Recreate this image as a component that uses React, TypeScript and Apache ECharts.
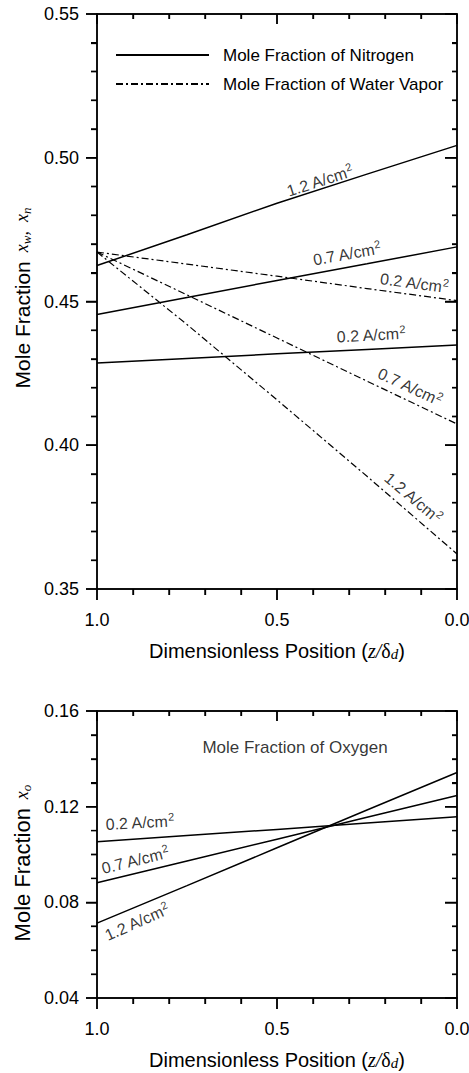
import React, { useEffect, useRef } from "react";
import * as echarts from "echarts";

// ---- data ----
const positions = [1.0, 0.75, 0.5, 0.25, 0.0];

const nitrogen02 = [0.4286, 0.4302, 0.4318, 0.4333, 0.4349];
const nitrogen07 = [0.4455, 0.4514, 0.4573, 0.4631, 0.469];
const nitrogen12 = [0.4625, 0.4732, 0.4842, 0.4943, 0.5043];

const water02 = [0.4672, 0.463, 0.4588, 0.4545, 0.4503];
const water07 = [0.4672, 0.4523, 0.4373, 0.4223, 0.4074];
const water12 = [0.4672, 0.442, 0.4158, 0.3892, 0.3622];

const oxygen02 = [0.1053, 0.1079, 0.1105, 0.1132, 0.1158];
const oxygen07 = [0.0882, 0.0973, 0.1064, 0.1156, 0.1247];
const oxygen12 = [0.0713, 0.087, 0.1028, 0.1186, 0.1343];

// tick values
const xMajorTicks = [0, 0.5, 1];
const xMinorTicks = [0.1, 0.2, 0.3, 0.4, 0.6, 0.7, 0.8, 0.9];
const yTopMajorTicks = [0.35, 0.4, 0.45, 0.5, 0.55];
const yTopMinorTicks = [
  0.36, 0.37, 0.38, 0.39, 0.41, 0.42, 0.43, 0.44, 0.46, 0.47, 0.48, 0.49, 0.51, 0.52, 0.53, 0.54,
];
const yBottomMajorTicks = [0.04, 0.08, 0.12, 0.16];
const yBottomMinorTicks = [0.05, 0.06, 0.07, 0.09, 0.1, 0.11, 0.13, 0.14, 0.15];

const nameN = "Mole Fraction of Nitrogen";
const nameW = "Mole Fraction of Water Vapor";
const nameO = "Mole Fraction of Oxygen";

// annotation labels: [current density, x, y, rotation]
const topLabels: [string, number, number, number][] = [
  ["1.2", 0.381, 0.4919, 18],
  ["0.7", 0.306, 0.4665, 10],
  ["0.2", 0.119, 0.4564, -7.5],
  ["0.2", 0.239, 0.4383, 3],
  ["0.7", 0.131, 0.4203, -25],
  ["1.2", 0.122, 0.3817, -40],
];
const bottomLabels: [string, number, number, number][] = [
  ["0.2", 0.881, 0.1133, 3],
  ["0.7", 0.894, 0.0975, 14],
  ["1.2", 0.889, 0.0717, 24],
];

const FONT = '"Liberation Sans", Arial, Helvetica, sans-serif';
const SERIF = '"Liberation Serif", "Times New Roman", serif';
const BLACK = "#000";

export default function App() {
  const ref = useRef<HTMLDivElement>(null);

  useEffect(() => {
    if (!ref.current) return;
    const chart = echarts.init(ref.current, undefined, { renderer: "svg" });

    const grids = [
      { left: 97, top: 14, width: 360, height: 575, outerBoundsMode: "none", containLabel: false },
      { left: 97, top: 711, width: 360, height: 287, outerBoundsMode: "none", containLabel: false },
    ];

    const mkLine = () => ({ show: true, onZero: false, lineStyle: { color: BLACK, width: 1.5 } });

    const xName = () => ({
      name: "Dimensionless Position ({i|z}{i|/}{g|δ}{s|d})",
      nameLocation: "middle" as const,
      nameGap: 52,
      nameTextStyle: {
        fontFamily: FONT,
        fontSize: 20,
        color: BLACK,
        rich: {
          i: { fontFamily: SERIF, fontStyle: "italic", fontSize: 20, color: BLACK },
          g: { fontFamily: SERIF, fontSize: 20, color: BLACK },
          s: { fontFamily: SERIF, fontStyle: "italic", fontSize: 15, color: BLACK, verticalAlign: "bottom" },
        },
      },
    });

    const makeX = (gi: number) => [
      {
        gridIndex: gi,
        type: "value",
        min: 0,
        max: 1,
        interval: 0.5,
        inverse: true,
        position: "bottom",
        axisLine: mkLine(),
        axisTick: { show: true, inside: false, length: 11, lineStyle: { color: BLACK, width: 1.5 } },
        minorTick: { show: true, splitNumber: 5, length: 6, lineStyle: { color: BLACK, width: 1.3 } },
        axisLabel: {
          fontFamily: FONT,
          fontSize: 18,
          color: BLACK,
          margin: 22,
          formatter: (v: number) => v.toFixed(1),
        },
        splitLine: { show: false },
        ...xName(),
      },
      {
        gridIndex: gi,
        type: "value",
        min: 0,
        max: 1,
        interval: 0.5,
        inverse: true,
        position: "top",
        axisLine: mkLine(),
        axisTick: { show: true, inside: true, length: 10, lineStyle: { color: BLACK, width: 1.5 } },
        minorTick: { show: true, splitNumber: 5, length: 5, lineStyle: { color: BLACK, width: 1.3 } },
        axisLabel: { show: false },
        splitLine: { show: false },
      },
    ];

    const makeY = (gi: number, min: number, max: number, interval: number, split: number) => [
      {
        gridIndex: gi,
        type: "value",
        min,
        max,
        interval,
        position: "left",
        axisLine: mkLine(),
        axisTick: { show: true, inside: false, length: 11, lineStyle: { color: BLACK, width: 1.5 } },
        minorTick: { show: true, splitNumber: split, length: 6, lineStyle: { color: BLACK, width: 1.3 } },
        axisLabel: {
          fontFamily: FONT,
          fontSize: 18,
          color: BLACK,
          margin: 18,
          formatter: (v: number) => v.toFixed(2),
        },
        splitLine: { show: false },
      },
      {
        gridIndex: gi,
        type: "value",
        min,
        max,
        interval,
        position: "right",
        axisLine: mkLine(),
        axisTick: { show: true, inside: true, length: 12, lineStyle: { color: BLACK, width: 1.5 } },
        minorTick: { show: true, splitNumber: split, length: 5, lineStyle: { color: BLACK, width: 1.3 } },
        axisLabel: { show: false },
        splitLine: { show: false },
      },
    ];

    const pair = (ys: number[]) => positions.map((x, i) => [x, ys[i]]);

    const solid = { color: BLACK, width: 1.5, type: "solid" as const };
    const dashDot = { color: BLACK, width: 1.2, type: [7, 3, 2, 3] };

    const lineSeries = (name: string, ys: number[], style: any, xi: number, yi: number) => ({
      type: "line",
      name,
      xAxisIndex: xi,
      yAxisIndex: yi,
      data: pair(ys),
      symbol: "none",
      showSymbol: false,
      lineStyle: style,
      itemStyle: { color: BLACK },
      silent: true,
      z: 3,
    });

    // tick "combs" along each side, positioned through the axes' scales (api.coord)
    const tickSeries = (
      xi: number,
      yi: number,
      yMin: number,
      yMax: number,
      yMajor: number[],
      yMinor: number[]
    ) => ({
      type: "custom",
      xAxisIndex: xi,
      yAxisIndex: yi,
      silent: true,
      clip: false,
      z: 4,
      data: [[0.5, (yMin + yMax) / 2]],
      renderItem: (_params: any, api: any) => {
        const xs = [...xMajorTicks, ...xMinorTicks].sort((a, b) => b - a);
        const ys = [...yMajor, ...yMinor].sort((a, b) => a - b);
        const isXMajor = (v: number) => xMajorTicks.indexOf(v) >= 0;
        const isYMajor = (v: number) => yMajor.indexOf(v) >= 0;
        const bottom: number[][] = [];
        const top: number[][] = [];
        xs.forEach((v) => {
          const b = api.coord([v, yMin]);
          const t = api.coord([v, yMax]);
          bottom.push([b[0], b[1]], [b[0], b[1] + (isXMajor(v) ? 11 : 6)], [b[0], b[1]]);
          top.push([t[0], t[1]], [t[0], t[1] + (isXMajor(v) ? 10 : 5)], [t[0], t[1]]);
        });
        const left: number[][] = [];
        const right: number[][] = [];
        ys.forEach((v) => {
          const l = api.coord([1, v]);
          const r = api.coord([0, v]);
          left.push([l[0], l[1]], [l[0] - (isYMajor(v) ? 11 : 6), l[1]], [l[0], l[1]]);
          right.push([r[0], r[1]], [r[0] - (isYMajor(v) ? 12 : 5), r[1]], [r[0], r[1]]);
        });
        const style = { stroke: BLACK, lineWidth: 1.4, fill: "none", lineJoin: "bevel" };
        return {
          type: "group",
          children: [bottom, top, left, right].map((pts) => ({
            type: "polyline",
            shape: { points: pts },
            style,
          })),
        };
      },
    });

    const labelRich = {
      b: { fontFamily: FONT, fontSize: 16, color: BLACK, lineHeight: 20 },
      p: { fontFamily: FONT, fontSize: 11, color: BLACK, verticalAlign: "top", lineHeight: 11 },
    };

    const annSeries = (labels: [string, number, number, number][], xi: number, yi: number) => ({
      type: "scatter",
      name: "annotations" + xi,
      xAxisIndex: xi,
      yAxisIndex: yi,
      symbolSize: 0,
      silent: true,
      data: labels.map(([t, x, y, r]) => ({
        value: [x, y],
        label: { rotate: r, formatter: `{b|${t} A/cm}{p|2}` },
      })),
      label: {
        show: true,
        position: "inside",
        align: "center",
        verticalAlign: "middle",
        color: BLACK,
        rich: labelRich,
      },
    });

    const oxygenTitle = {
      type: "scatter",
      name: "oxygenTitle",
      xAxisIndex: 2,
      yAxisIndex: 2,
      symbolSize: 0,
      silent: true,
      data: [{ value: [0.45, 0.1446] }],
      label: {
        show: true,
        position: "inside",
        formatter: nameO,
        fontFamily: FONT,
        fontSize: 17,
        color: BLACK,
      },
    };

    const option: any = {
      animation: false,
      grid: grids,
      xAxis: [...makeX(0), ...makeX(1)],
      yAxis: [...makeY(0, 0.35, 0.55, 0.05, 5), ...makeY(1, 0.04, 0.16, 0.04, 4)],
      legend: {
        data: [nameN, nameW],
        orient: "vertical",
        left: 110,
        top: 40,
        itemWidth: 93,
        itemHeight: 14,
        itemGap: 9,
        selectedMode: false,
        itemStyle: { opacity: 0, borderWidth: 0 },
        textStyle: {
          fontFamily: FONT,
          fontSize: 17,
          color: BLACK,
          lineHeight: 20,
          padding: [0, 0, 0, 9],
        },
      },
      graphic: [
        {
          type: "text",
          x: 22,
          y: 298,
          rotation: Math.PI / 2,
          style: {
            text: "{a|Mole Fraction}{m|  x}{ms|w}{m|,  x}{ms|n}",
            align: "center",
            verticalAlign: "middle",
            fill: BLACK,
            rich: {
              a: { fontFamily: FONT, fontSize: 21, fill: BLACK },
              m: { fontFamily: SERIF, fontStyle: "italic", fontSize: 18, fill: BLACK },
              ms: { fontFamily: SERIF, fontStyle: "italic", fontSize: 13, fill: BLACK, verticalAlign: "bottom" },
            },
          },
        },
        {
          type: "text",
          x: 22,
          y: 863,
          rotation: Math.PI / 2,
          style: {
            text: "{a|Mole Fraction}{m|  x}{ms|o}",
            align: "center",
            verticalAlign: "middle",
            fill: BLACK,
            rich: {
              a: { fontFamily: FONT, fontSize: 22, fill: BLACK },
              m: { fontFamily: SERIF, fontStyle: "italic", fontSize: 18, fill: BLACK },
              ms: { fontFamily: SERIF, fontStyle: "italic", fontSize: 13, fill: BLACK, verticalAlign: "bottom" },
            },
          },
        },
      ],
      series: [
        lineSeries(nameN, nitrogen02, solid, 0, 0),
        lineSeries(nameN, nitrogen07, solid, 0, 0),
        lineSeries(nameN, nitrogen12, solid, 0, 0),
        lineSeries(nameW, water02, dashDot, 0, 0),
        lineSeries(nameW, water07, dashDot, 0, 0),
        lineSeries(nameW, water12, dashDot, 0, 0),
        lineSeries(nameO + " 0.2", oxygen02, solid, 2, 2),
        lineSeries(nameO + " 0.7", oxygen07, solid, 2, 2),
        lineSeries(nameO + " 1.2", oxygen12, solid, 2, 2),
        tickSeries(0, 0, 0.35, 0.55, yTopMajorTicks, yTopMinorTicks),
        tickSeries(2, 2, 0.04, 0.16, yBottomMajorTicks, yBottomMinorTicks),
        annSeries(topLabels, 0, 0),
        annSeries(bottomLabels, 2, 2),
        oxygenTitle,
      ],
    };

    chart.setOption(option);
    return () => chart.dispose();
  }, []);

  return (
    <div
      ref={ref}
      style={{ position: "absolute", left: 0, top: 0, width: 469, height: 1073, background: "#fff" }}
    />
  );
}
